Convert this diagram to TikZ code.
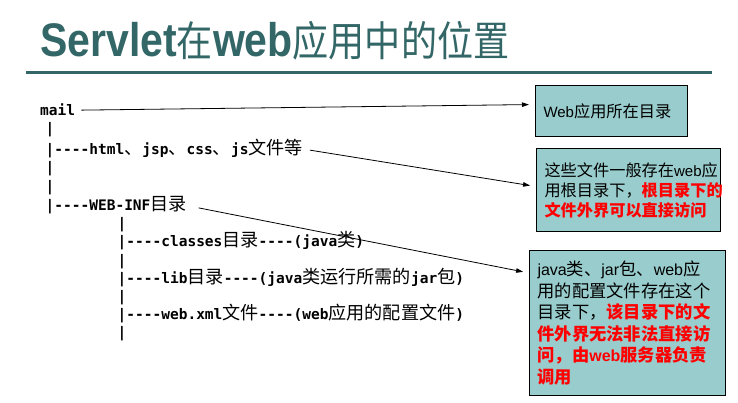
\documentclass[tikz,border=0pt]{standalone}
\usepackage{fontspec}
\setmainfont{Liberation Sans}
\setmonofont{DejaVu Sans Mono}
\newfontfamily\cjktree{Noto Sans CJK SC}[Scale=1.25]
\newfontfamily\cjkbox{Noto Sans CJK SC}[Scale=1.08]
\newfontfamily\cjktitle{Noto Sans CJK SC}[Scale=0.88]
\newcommand\zm[1]{{\cjktree\mdseries #1}}
\newcommand\zh[1]{{\cjkbox #1}}
\newcommand\zt[1]{{\cjktitle\mdseries #1}}
\newcommand\hl[1]{{\color{hotred}\bfseries #1}}
\newcommand\fourdash{-{}-{}-{}-}
\usetikzlibrary{arrows.meta}
\definecolor{titleteal}{HTML}{336666}
\definecolor{notefill}{HTML}{99CCCC}
\definecolor{hotred}{HTML}{FF0000}
\begin{document}
\begin{tikzpicture}[x=1pt,y=-1pt,
  treeline/.style={anchor=base west, inner sep=0pt,
    font=\ttfamily\bfseries\fontsize{14.5}{18}\selectfont},
  note/.style={draw=black, line width=1pt, fill=notefill, anchor=north west,
    align=left, inner xsep=8pt, inner ysep=0pt},
  link/.style={-{Triangle[length=7pt,width=4.5pt]}, line width=0.8pt, shorten >=6pt}]
\useasboundingbox (0,0) rectangle (738,403);

% heading and rule
\node[anchor=base west, inner sep=0pt, text=titleteal,
  font=\bfseries\fontsize{41}{41}\selectfont] (title) at (40,57)
  {\scalebox{1}[1.15]{Servlet\zt{在}web\zt{应用中的位置}}};
\draw[titleteal, line width=3pt] (26,72.5) -- (712,72.5);

% directory tree
\node[treeline] (t0)  at (40,116)    {mail};
\node[treeline] (t1)  at (45.5,134)  {|};
\node[treeline] (t2)  at (45.5,155)  {|\fourdash html\zm{、}jsp\zm{、}css\zm{、}js\zm{文件等}};
\node[treeline] (t3)  at (45.5,173)  {|};
\node[treeline] (t4)  at (45.5,192)  {|};
\node[treeline] (t5)  at (45.5,211)  {|\fourdash WEB-INF\zm{目录}};
\node[treeline] (t6)  at (117.5,229) {|};
\node[treeline] (t7)  at (117.5,247) {|\fourdash classes\zm{目录}\fourdash(java\zm{类})};
\node[treeline] (t8)  at (117.5,265) {|};
\node[treeline] (t9)  at (117.5,283) {|\fourdash lib\zm{目录}\fourdash(java\zm{类运行所需的}jar\zm{包})};
\node[treeline] (t10) at (117.5,301) {|};
\node[treeline] (t11) at (117.5,319) {|\fourdash web.xml\zm{文件}\fourdash(web\zm{应用的配置文件})};
\node[treeline] (t12) at (117.5,337) {|};

% explanation boxes
\node[note, minimum width=152pt, minimum height=51pt, text width=136pt,
  font=\fontsize{15}{20}\selectfont] (b1) at (535,85)
  {Web\zh{应用所在目录}};
\node[note, minimum width=184pt, minimum height=83pt, text width=168pt,
  inner xsep=7pt, font=\fontsize{15}{20}\selectfont] (b2) at (536,148)
  {\zh{这些文件一般存在}web\zh{应}\\
   \zh{用根目录下，}\hl{\zh{根目录下的}}\\
   \hl{\zh{文件外界可以直接访问}}};
\node[note, minimum width=196pt, minimum height=145pt, text width=180pt,
  font=\fontsize{16}{21.5}\selectfont] (b3) at (529,250)
  {java\zh{类、}jar\zh{包、}web\zh{应}\\
   \zh{用的配置文件存在这个}\\
   \zh{目录下，}\hl{\zh{该目录下的文}}\\
   \hl{\zh{件外界无法非法直接访}}\\
   \hl{\zh{问，由}web\zh{服务器负责}}\\
   \hl{\zh{调用}}};

% connectors
\draw[link, shorten <=6pt]  (t0.east) -- ([yshift=6.5pt]b1.west);
\draw[link, shorten <=7pt]  (t2.east) -- ([yshift=3.5pt]b2.west);
\draw[link, shorten <=12pt] (t5.east) -- ([yshift=-23pt]b3.north west);
\end{tikzpicture}
\end{document}
